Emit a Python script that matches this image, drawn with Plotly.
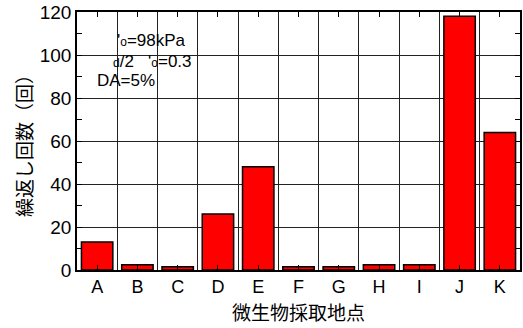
import plotly.graph_objects as go

# Sampling sites and number of cycles to reach DA=5%
sites = ["A", "B", "C", "D", "E", "F", "G", "H", "I", "J", "K"]
cycles = [13, 2.5, 1.5, 26, 48, 1.5, 1.5, 2.5, 2.5, 118, 64]

y_ticks = [0, 20, 40, 60, 80, 100, 120]

fig = go.Figure()
fig.add_trace(go.Bar(
    x=sites, y=cycles,
    marker=dict(color="#ff0000", line=dict(color="black", width=1.5)),
    width=0.78,
))

# invisible helper trace on a numeric overlay axis for category-boundary grid lines
fig.add_trace(go.Scatter(x=[-0.5, len(sites) - 0.5], y=[0, 0], xaxis="x2",
                         mode="none", showlegend=False, hoverinfo="skip"))

fig.update_layout(
    width=523, height=328,
    margin=dict(l=77, r=1, t=12, b=58),
    plot_bgcolor="white", paper_bgcolor="white",
    showlegend=False,
    font=dict(family="Liberation Sans, Arial", color="black"),
    xaxis=dict(
        type="category", range=[-0.5, len(sites) - 0.5],
        showgrid=False, showline=True, linecolor="black", linewidth=1.5,
        mirror="allticks", ticks="inside", ticklen=5, tickcolor="black",
        tickfont=dict(size=18, family="Liberation Sans Narrow, Liberation Sans"),
        title=dict(text="微生物採取地点", font=dict(size=19, family="Noto Sans CJK JP"), standoff=10),
    ),
    xaxis2=dict(
        overlaying="x", range=[-0.5, len(sites) - 0.5],
        tickvals=[i + 0.5 for i in range(len(sites) - 1)],
        showticklabels=False, ticks="", showgrid=True,
        gridcolor="#222222", gridwidth=1, showline=False, zeroline=False,
    ),
    yaxis=dict(
        range=[0, 120], tickvals=y_ticks,
        showgrid=True, gridcolor="#222222", gridwidth=1, zeroline=False,
        showline=True, linecolor="black", linewidth=1.5, mirror="allticks",
        ticks="inside", ticklen=0, tickcolor="black",
        minor=dict(dtick=10, ticks="inside", ticklen=5, tickcolor="black", showgrid=False),
        tickfont=dict(size=19),
        title=dict(text="繰返し回数（回）", font=dict(size=19, family="Noto Sans CJK JP"), standoff=2),
    ),
)

small_o = "<span style='font-size:12px'>o</span>"
small_d = "<span style='font-size:12px'>d</span>"
note_font = dict(size=17)
fig.add_annotation(xref="paper", yref="paper", x=0.085, y=0.89, xanchor="left", yanchor="middle",
                   text="'" + small_o + "=98kPa", showarrow=False, font=note_font)
fig.add_annotation(xref="paper", yref="paper", x=0.076, y=0.81, xanchor="left", yanchor="middle",
                   text=small_d + "/2   '" + small_o + "=0.3", showarrow=False, font=note_font)
fig.add_annotation(xref="paper", yref="paper", x=0.040, y=0.733, xanchor="left", yanchor="middle",
                   text="DA=5%", showarrow=False, font=note_font)

fig.write_html("out.html")
